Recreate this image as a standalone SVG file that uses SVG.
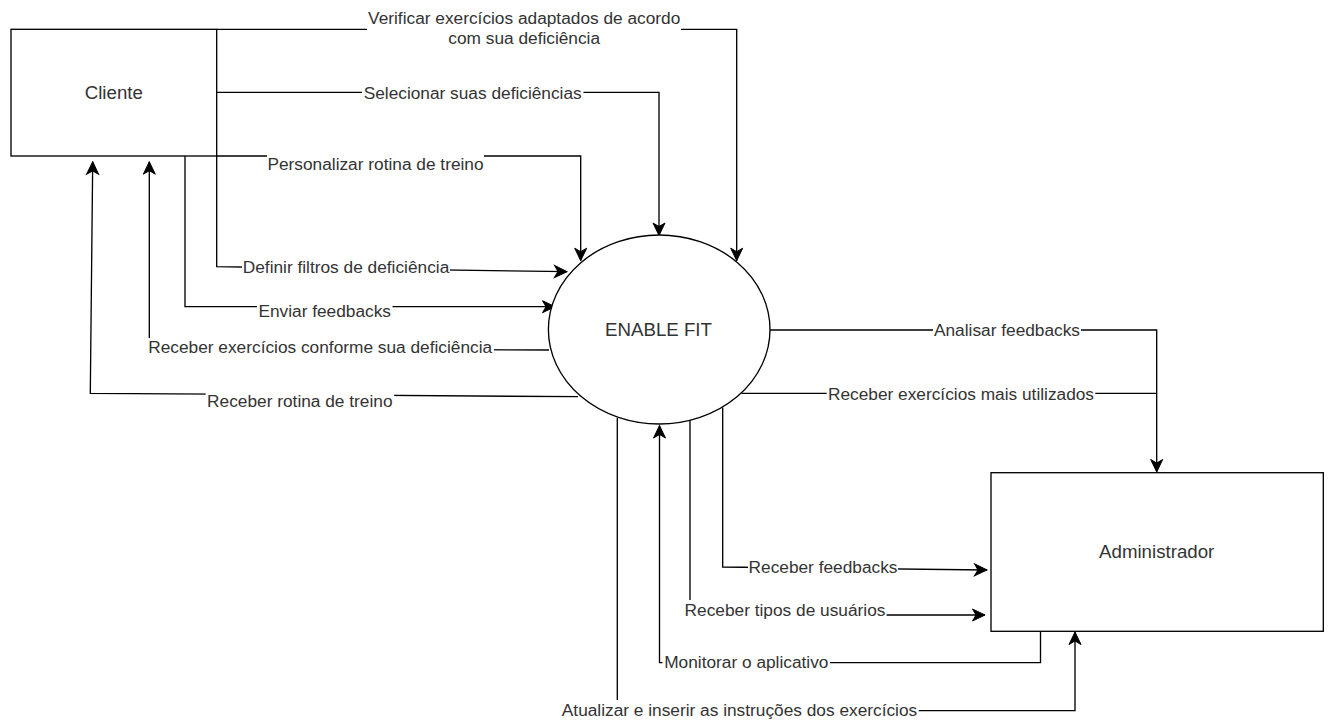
<svg xmlns="http://www.w3.org/2000/svg" width="1331" height="722" viewBox="0 0 1331 722">
  <style>
    .shape { fill: #ffffff; stroke: #000000; stroke-width: 1.33; }
    .edge { fill: none; stroke: #000000; stroke-width: 1.33; }
    .arrow { marker-end: url(#arrowhead); }
    .node-label { font-family: "Liberation Sans", Arial, Helvetica, sans-serif; font-size: 18.7px; fill: #333333; text-anchor: middle; }
    .edge-label { font-family: "Liberation Sans", Arial, Helvetica, sans-serif; font-size: 17.3px; fill: #333333; text-anchor: middle; }
    .label-bg { fill: #ffffff; stroke: none; }
  </style>
  <defs>
    <marker id="arrowhead" viewBox="-14 -8 15 16" markerWidth="15" markerHeight="16" refX="0" refY="0" orient="auto" markerUnits="userSpaceOnUse">
      <path d="M0,0 L-12.5,-6 L-9,0 L-12.5,6 Z" fill="#000000" stroke="#000000" stroke-width="1" stroke-linejoin="miter"/>
    </marker>
  </defs>
  <rect width="1331" height="722" fill="#ffffff"/>

  <g id="connectors">
    <g id="edge-paths">
      <path id="e-verificar" class="edge arrow" d="M216.7,29.3 H736.7 V260.7"/>
      <path id="e-selecionar" class="edge arrow" d="M216.7,92.3 H659 V235.5"/>
      <path id="e-personalizar" class="edge arrow" d="M216.7,156 H580.7 V260.7"/>
      <path id="e-definir" class="edge arrow" d="M216.7,156 V266.7 L567,271.7"/>
      <path id="e-enviar" class="edge arrow" d="M185,156 V306.7 H555"/>
      <path id="e-receber-conforme" class="edge arrow" d="M549,350 L149.3,348.3 V161.7"/>
      <path id="e-receber-rotina" class="edge arrow" d="M578,396.7 L90.3,393.3 L92.7,161.7"/>
      <path id="e-analisar" class="edge arrow" d="M770,330 H1156.7 V472"/>
      <path id="e-mais-utilizados" class="edge" d="M741.5,393.3 H1156.7"/>
      <path id="e-receber-feedbacks" class="edge arrow" d="M722.7,407.5 V567 L987,570"/>
      <path id="e-receber-tipos" class="edge arrow" d="M690,420.5 V615 H985"/>
      <path id="e-monitorar" class="edge arrow" d="M1040.5,631.3 V662.7 H659.5 V425.5"/>
      <path id="e-atualizar" class="edge arrow" d="M617.3,418 V710.7 H1075 V632"/>
    </g>
    <g id="edge-labels">
      <rect class="label-bg" x="367" y="8.5" width="314" height="41"/>
      <text class="edge-label" x="524.2" y="24">Verificar exercícios adaptados de acordo</text>
      <text class="edge-label" x="524.2" y="44">com sua deficiência</text>

      <rect class="label-bg" x="362" y="83.5" width="221.5" height="20"/>
      <text class="edge-label" x="472.7" y="99">Selecionar suas deficiências</text>

      <rect class="label-bg" x="267" y="154" width="217" height="20"/>
      <text class="edge-label" x="375.5" y="169.5">Personalizar rotina de treino</text>

      <rect class="label-bg" x="242" y="257.2" width="208" height="20"/>
      <text class="edge-label" x="346" y="272.7">Definir filtros de deficiência</text>

      <rect class="label-bg" x="257" y="301.5" width="135.5" height="20"/>
      <text class="edge-label" x="324.7" y="317">Enviar feedbacks</text>

      <rect class="label-bg" x="146.5" y="338" width="347.5" height="20"/>
      <text class="edge-label" x="320.2" y="353">Receber exercícios conforme sua deficiência</text>

      <rect class="label-bg" x="205.7" y="391.5" width="188.5" height="20"/>
      <text class="edge-label" x="299.8" y="407">Receber rotina de treino</text>

      <rect class="label-bg" x="933" y="320.2" width="148" height="20"/>
      <text class="edge-label" x="1007" y="335.7">Analisar feedbacks</text>

      <rect class="label-bg" x="826.7" y="384.5" width="268.6" height="20"/>
      <text class="edge-label" x="961" y="400">Receber exercícios mais utilizados</text>

      <rect class="label-bg" x="748" y="557.8" width="150" height="20"/>
      <text class="edge-label" x="823" y="573.3">Receber feedbacks</text>

      <rect class="label-bg" x="683.6" y="600" width="203" height="20"/>
      <text class="edge-label" x="785" y="616">Receber tipos de usuários</text>

      <rect class="label-bg" x="662.5" y="652.8" width="167.5" height="20"/>
      <text class="edge-label" x="746.3" y="668.3">Monitorar o aplicativo</text>

      <rect class="label-bg" x="560.4" y="700" width="358.3" height="21"/>
      <text class="edge-label" x="739.5" y="716">Atualizar e inserir as instruções dos exercícios</text>
    </g>
  </g>

  <g id="node-cliente">
    <rect class="shape" x="11" y="29.3" width="205.7" height="126.7"/>
    <text class="node-label" x="113.8" y="98.5">Cliente</text>
  </g>

  <g id="node-enable-fit">
    <ellipse class="shape" cx="659.2" cy="329.5" rx="110.8" ry="94.5"/>
    <text class="node-label" x="658.5" y="336">ENABLE FIT</text>
  </g>

  <g id="node-administrador">
    <rect class="shape" x="991" y="472.7" width="332.3" height="158.6"/>
    <text class="node-label" x="1156.7" y="558">Administrador</text>
  </g>
</svg>
